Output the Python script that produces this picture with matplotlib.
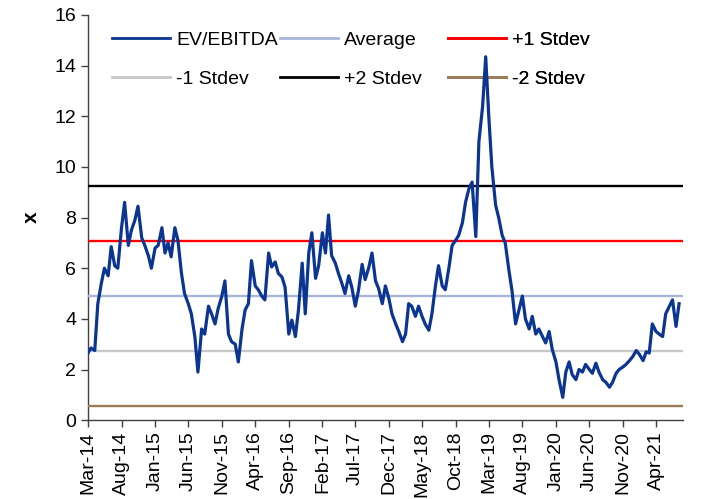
import matplotlib
matplotlib.use("Agg")
import matplotlib.pyplot as plt
import matplotlib.dates as mdates
from matplotlib.lines import Line2D
import pandas as pd

plt.rcParams["font.family"] = ["Liberation Sans", "DejaVu Sans"]

# Semi-monthly EV/EBITDA readings starting March 2014
start_date = "2014-03-01"
ev_ebitda = [
    2.65, 2.85, 2.75, 4.6, 5.4, 6.0, 5.7, 6.85, 6.1, 6.0,
    7.6, 8.6, 6.9, 7.5, 7.9, 8.45, 7.2, 6.9, 6.5, 6.0,
    6.8, 6.9, 7.6, 6.6, 7.0, 6.45, 7.6, 7.1, 5.8, 5.0,
    4.6, 4.2, 3.3, 1.9, 3.6, 3.4, 4.5, 4.2, 3.8, 4.4,
    4.9, 5.5, 3.4, 3.1, 3.0, 2.3, 3.6, 4.35, 4.6, 6.3,
    5.3, 5.15, 4.9, 4.75, 6.6, 6.05, 6.25, 5.8, 5.65, 5.25,
    3.4, 3.95, 3.3, 4.35, 6.2, 4.2, 6.6, 7.4, 5.6, 6.1,
    7.4, 6.6, 8.1, 6.5, 6.2, 5.8, 5.4, 5.0, 5.7, 5.25,
    4.5, 5.1, 6.15, 5.55, 6.05, 6.6, 5.5, 5.2, 4.6, 5.3,
    4.8, 4.2, 3.8, 3.5, 3.1, 3.4, 4.6, 4.5, 4.1, 4.5,
    4.1, 3.8, 3.55, 4.2, 5.3, 6.1, 5.3, 5.15, 6.05, 6.9,
    7.1, 7.3, 7.8, 8.6, 9.15, 9.4, 7.25, 11.0, 12.4, 14.35,
    12.0, 10.0, 8.5, 8.0, 7.3, 7.0, 5.9, 5.1, 3.8, 4.3,
    4.9, 4.0, 3.6, 4.1, 3.4, 3.6, 3.3, 3.05, 3.5, 2.8,
    2.3, 1.6, 0.9, 1.9, 2.3, 1.8, 1.6, 2.0, 1.9, 2.2,
    2.0, 1.85, 2.25, 1.9, 1.6, 1.5, 1.3, 1.5, 1.85, 2.0,
    2.1, 2.2, 2.35, 2.5, 2.75, 2.6, 2.35, 2.7, 2.65, 3.8,
    3.5, 3.4, 3.3, 4.2, 4.5, 4.75, 3.7, 4.6,
]
average = 4.90
stdev = 2.18

tick_start = "2014-03-01"
tick_end = "2021-04-01"
axis_end = "2021-08-01"

dates = pd.date_range(start_date, periods=len(ev_ebitda), freq="SMS")

fig = plt.figure(figsize=(7.15, 4.99), dpi=100)
ax = fig.add_axes([0.123, 0.158, 0.832, 0.812])

series_line, = ax.plot(dates, ev_ebitda, color="#0b3592", lw=2.3, zorder=4)

bands = [
    ("Average", average, "#a9b5d8"),
    ("+1 Stdev", average + stdev, "#ff0000"),
    ("-1 Stdev", average - stdev, "#c8c8c8"),
    ("+2 Stdev", average + 2 * stdev, "#000000"),
    ("-2 Stdev", average - 2 * stdev, "#9c7b58"),
]
band_handles = {}
for name, level, color in bands:
    h = ax.axhline(level, color=color, lw=1.7, zorder=3)
    band_handles[name] = h

ax.set_xlim(pd.Timestamp(start_date), pd.Timestamp(axis_end))
ax.set_ylim(0, 16)
ax.set_yticks(range(0, 17, 2))
ticks = pd.date_range(tick_start, tick_end, freq="5MS")
ax.set_xticks(ticks)
ax.xaxis.set_major_formatter(mdates.DateFormatter("%b-%y"))
plt.setp(ax.get_xticklabels(), rotation=90, ha="center", va="top")
ax.tick_params(axis="both", labelsize=14, direction="out", length=5,
               width=1, color="#404040")
ax.tick_params(axis="x", pad=3)
for side in ("top", "right"):
    ax.spines[side].set_visible(False)
for side in ("left", "bottom"):
    ax.spines[side].set_color("#404040")
    ax.spines[side].set_linewidth(1.0)
ax.set_ylabel("x", fontsize=15, fontweight="bold", labelpad=10)

# Legend split into three columns of equal width
columns = [
    [("EV/EBITDA", series_line), ("-1 Stdev", band_handles["-1 Stdev"])],
    [("Average", band_handles["Average"]), ("+2 Stdev", band_handles["+2 Stdev"])],
    [("+1 Stdev", band_handles["+1 Stdev"]), ("-2 Stdev", band_handles["-2 Stdev"])],
]
col_x = [0.027, 0.31, 0.592]
for cx, entries in zip(col_x, columns):
    handles = [Line2D([], [], color=h.get_color(), lw=2.0) for _, h in entries]
    leg = ax.legend(handles, [n for n, _ in entries], loc="upper left",
                    bbox_to_anchor=(cx, 0.978), frameon=False, fontsize=14,
                    handlelength=3.0, handletextpad=0.3, labelspacing=1.1,
                    borderaxespad=0.0)
    leg.set_zorder(2)
    ax.add_artist(leg)

fig.savefig("out.png", dpi=100)
